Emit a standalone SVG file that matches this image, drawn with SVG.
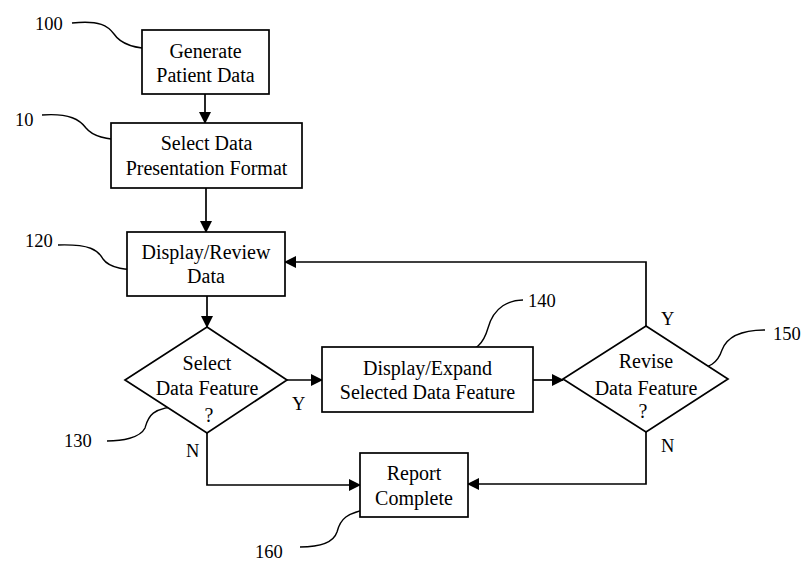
<svg xmlns="http://www.w3.org/2000/svg" width="803" height="563" viewBox="0 0 803 563">
<style>
.box{fill:#fff;stroke:#000;stroke-width:1.7}
.t{font-family:"Liberation Serif","Times New Roman",serif;font-size:20px;fill:#000;text-anchor:middle}
.lbl{font-family:"Liberation Serif","Times New Roman",serif;font-size:18.5px;fill:#000}
.c{fill:none;stroke:#000;stroke-width:1.7}
.ld{fill:none;stroke:#000;stroke-width:1.4}
</style>
<defs>
<marker id="ah" markerWidth="12" markerHeight="12" refX="11" refY="6" orient="auto" markerUnits="userSpaceOnUse">
<path d="M0,0 L12,6 L0,12 Z" fill="#000"/>
</marker>
</defs>
<rect width="803" height="563" fill="#fff"/>
<g id="connectors">
<path class="c" d="M205,94 V123" marker-end="url(#ah)"/>
<path class="c" d="M206,188 V232" marker-end="url(#ah)"/>
<path class="c" d="M207,296 V327" marker-end="url(#ah)"/>
<path class="c" d="M287,380 H322" marker-end="url(#ah)"/>
<path class="c" d="M533,380 H563" marker-end="url(#ah)"/>
<path class="c" d="M646,326 V262 H285" marker-end="url(#ah)"/>
<path class="c" d="M207,433 V485 H360" marker-end="url(#ah)"/>
<path class="c" d="M646,432 V484 H468" marker-end="url(#ah)"/>
<text class="lbl" x="292" y="410">Y</text>
<text class="lbl" x="186" y="457">N</text>
<text class="lbl" x="661" y="325">Y</text>
<text class="lbl" x="661" y="452">N</text>
</g>
<g id="leaders">
<path class="ld" d="M72,23 C100,20 108,26 114,34 C122,46 140,49 157,49"/>
<path class="ld" d="M42,115 C70,113 80,120 86,128 C94,138 112,140 127,140"/>
<path class="ld" d="M58,245 C90,244 98,250 103,259 C110,269 128,270 143,270"/>
<path class="ld" d="M183,406 C150,407 148,418 145,428 C140,438 122,441 107,441"/>
<path class="ld" d="M452,356 C478,352 484,342 488,328 C494,306 510,300 523,300"/>
<path class="ld" d="M690,368 C710,370 718,362 722,350 C728,334 748,330 765,330"/>
<path class="ld" d="M375,508 C345,512 340,520 337,532 C333,544 315,547 300,547"/>
</g>
<g id="n100">
<rect class="box" x="142" y="30" width="127" height="64"/>
<text class="t" x="205.5" y="58">Generate</text>
<text class="t" x="205.5" y="82">Patient Data</text>
<text class="lbl" x="35" y="30">100</text>
</g>
<g id="n10">
<rect class="box" x="111" y="123" width="191" height="65"/>
<text class="t" x="206.5" y="150">Select Data</text>
<text class="t" x="206.5" y="175">Presentation Format</text>
<text class="lbl" x="15" y="126">10</text>
</g>
<g id="n120">
<rect class="box" x="127" y="232" width="158" height="64"/>
<text class="t" x="206" y="259">Display/Review</text>
<text class="t" x="206" y="283">Data</text>
<text class="lbl" x="25" y="247">120</text>
</g>
<g id="n130">
<polygon class="box" points="207,327 287,380 207,433 125,380"/>
<text class="t" x="207" y="370">Select</text>
<text class="t" x="207" y="395">Data Feature</text>
<text class="t" x="209" y="422">?</text>
<text class="lbl" x="64" y="447">130</text>
</g>
<g id="n140">
<rect class="box" x="322" y="347" width="211" height="65"/>
<text class="t" x="427.5" y="375">Display/Expand</text>
<text class="t" x="427.5" y="399">Selected Data Feature</text>
<text class="lbl" x="528" y="307">140</text>
</g>
<g id="n150">
<polygon class="box" points="646,326 728,379 646,432 563,379"/>
<text class="t" x="646" y="368">Revise</text>
<text class="t" x="646" y="395">Data Feature</text>
<text class="t" x="643" y="418">?</text>
<text class="lbl" x="773" y="340">150</text>
</g>
<g id="n160">
<rect class="box" x="360" y="453" width="108" height="64"/>
<text class="t" x="414" y="480">Report</text>
<text class="t" x="414" y="505">Complete</text>
<text class="lbl" x="255" y="558">160</text>
</g>
</svg>
